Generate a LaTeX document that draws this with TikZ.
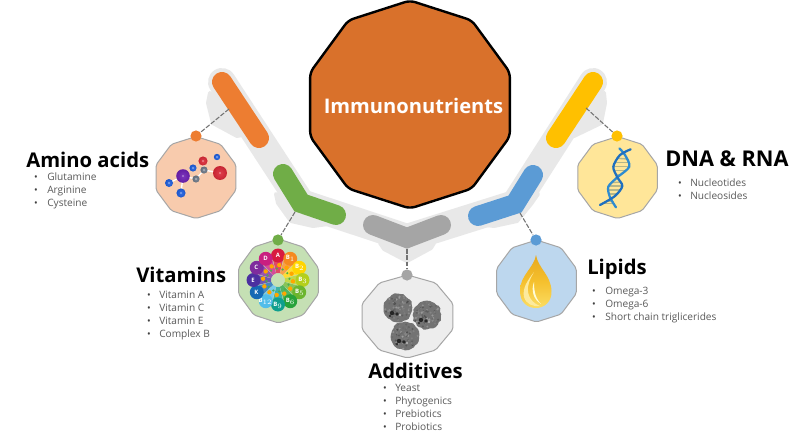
\documentclass[tikz,border=0pt]{standalone}
\usepackage{fontspec}
\setmainfont{Open Sans}
\usetikzlibrary{calc,decorations.pathmorphing,shapes.geometric}
\definecolor{hubfill}{HTML}{D9712B}
\definecolor{bandgray}{HTML}{E8E8E8}
\definecolor{pOrange}{HTML}{ED7D31}
\definecolor{pGreen}{HTML}{70AD47}
\definecolor{pGray}{HTML}{A5A5A5}
\definecolor{pBlue}{HTML}{5B9BD5}
\definecolor{pYellow}{HTML}{FFC000}
\definecolor{lOrange}{HTML}{F8CBAD}
\definecolor{lGreen}{HTML}{C5E0B4}
\definecolor{lGray}{HTML}{EDEDED}
\definecolor{lBlue}{HTML}{BDD7EE}
\definecolor{lYellow}{HTML}{FFE699}
\definecolor{itemgray}{HTML}{595959}
\definecolor{dropA}{HTML}{E8A91E}
\definecolor{dropB}{HTML}{F5C02E}
\definecolor{dropC}{HTML}{FBDD63}
\definecolor{dropD}{HTML}{FCEA9E}
\definecolor{dnaA}{HTML}{1F6FBF}
\definecolor{dnaB}{HTML}{2E8BD0}
\definecolor{dnaR}{HTML}{B4B68A}
\definecolor{aBlue}{HTML}{1E5FE0}
\definecolor{aPurple}{HTML}{6E1FB5}
\definecolor{aGray}{HTML}{6F7B8A}
\definecolor{aRed}{HTML}{DC2A38}
\definecolor{vA}{HTML}{D81B3F}
\definecolor{vBa}{HTML}{F58A1F}
\definecolor{vBb}{HTML}{FFD500}
\definecolor{vBc}{HTML}{B4CF1C}
\definecolor{vBe}{HTML}{6CB52E}
\definecolor{vBf}{HTML}{27A23A}
\definecolor{vBg}{HTML}{0E9F8E}
\definecolor{vBh}{HTML}{52BDE9}
\definecolor{vK}{HTML}{1569B4}
\definecolor{vE}{HTML}{4B2FA0}
\definecolor{vC}{HTML}{7E2C9D}
\definecolor{vD}{HTML}{C91F80}
\tikzset{
  band/.style={draw=bandgray,line width=21pt,line cap=round,miter limit=10},
  tabshape/.style={fill=bandgray,draw=bandgray,line width=3pt,line join=round},
  pill/.style={line width=15pt,line cap=round,miter limit=10},
  link/.style={draw=black!55,line width=0.8pt,dash pattern=on 3.5pt off 1.2pt},
  dotnode/.style={circle,inner sep=0pt,minimum size=8.4pt},
  deca/.style={draw=#1,line width=0.75pt,rounded corners=1.5pt},
  title/.style={anchor=base west,inner sep=0pt,font=\fontsize{15.2pt}{17pt}\selectfont\bfseries,text=black},
  item/.style={anchor=base west,inner sep=0pt,font=\fontsize{7.6pt}{9pt}\selectfont,text=itemgray},
  bul/.style={anchor=base,inner sep=0pt,font=\fontsize{7.3pt}{9pt}\selectfont,text=black!75},
  strand/.style={draw=#1,line width=1.7pt,line cap=round,line join=round}
}
\newcommand{\decag}[6]{\draw[deca=#6,fill=#5] ({#1},{#2+#4}) \foreach \t in {126,162,...,414}{ -- ({#1+#3*cos(\t)},{#2+#4*sin(\t)}) } -- cycle;}
\newcommand{\atom}[4]{\shade[inner color=#4!90!white,outer color=#4!90!black] (#1,#2) circle (#3); \fill[white!60!#4] (#1,#2) circle (0.8);}
\newcommand{\yeast}[3]{%
  \fill[black!55,decorate,decoration={random steps,segment length=2pt,amplitude=0.6pt}] (#1,#2) circle (#3);
  \foreach \k in {1,...,70}{%
    \pgfmathsetmacro{\ang}{rnd*360}\pgfmathsetmacro{\rr}{sqrt(rnd)*#3*0.92}\pgfmathsetmacro{\sh}{38+rnd*32}
    \fill[black!\sh] ({#1+\rr*cos(\ang)},{#2+\rr*sin(\ang)}) circle (1.1);
  }
  \fill[black!85] ({#1-6},{#2+5}) circle (2.2) ({#1-1},{#2+6}) circle (1.8) ({#1-8},{#2+8}) circle (1.2);
  \fill[white!75!black] ({#1+2},{#2+7}) circle (1.1);
}
\begin{document}
\begin{tikzpicture}[x=0.75pt,y=-0.75pt]
\useasboundingbox (0,0) rectangle (804,432);
\fill[white] (0,0) rectangle (804,432);
% path coordinates
\coordinate (a1) at (222,82); \coordinate (a2) at (259,138);
\coordinate (g1) at (283,174); \coordinate (g2) at (301,203); \coordinate (g3) at (336,215);
\coordinate (m1) at (373,225); \coordinate (m2) at (407,238); \coordinate (m3) at (441,225);
\coordinate (b1) at (478,216); \coordinate (b2) at (515,204); \coordinate (b3) at (533,175);
\coordinate (y1) at (556,138); \coordinate (y2) at (593,82);
% tabs
\filldraw[tabshape] (210,93) -- (208,103) -- (213,123) -- (237,136) -- (252,133) -- cycle;
\filldraw[tabshape] (276,194) -- (278,203) -- (291,221) -- (313,226) -- (328,224) -- cycle;
\filldraw[tabshape] (380,243) -- (384,249) -- (407,261) -- (431,248) -- (434,243) -- cycle;
\filldraw[tabshape] (538,194) -- (531,204) -- (517,221) -- (494,226) -- (478,224) -- cycle;
\filldraw[tabshape] (604,93) -- (605,103) -- (601,123) -- (574,136) -- (560,133) -- cycle;
% band
\draw[band] (a1) -- (g2) -- (m2) -- (b2) -- (y2);
% pills
\draw[pill,draw=pOrange] (a1) -- (a2);
\draw[pill,draw=pGreen] (g1) -- (g2) -- (g3);
\draw[pill,draw=pGray] (m1) -- (m2) -- (m3);
\draw[pill,draw=pBlue] (b1) -- (b2) -- (b3);
\draw[pill,draw=pYellow] (y1) -- (y2);
% decagons
\decag{196}{177.5}{42}{41}{lOrange}{black!35}
\decag{278.5}{281}{42}{42}{lGreen}{black!35}
\decag{407.5}{316.5}{47.8}{41.5}{lGray}{black!35}
\decag{536.5}{281}{41.8}{41}{lBlue}{black!35}
\decag{617.5}{177.5}{41.8}{41}{lYellow}{black!35}
% dots
\node[dotnode,fill=pOrange] (d1) at (196,136) {};
\node[dotnode,fill=pGreen] (d2) at (278,240) {};
\node[dotnode,fill=pGray] (d3) at (407,275) {};
\node[dotnode,fill=pBlue] (d4) at (536,240) {};
\node[dotnode,fill=pYellow] (d5) at (617,136) {};
% connectors
\coordinate (c1) at (229,109); \coordinate (c2) at (295,212); \coordinate (c3) at (407,249);
\coordinate (c4) at (520,213); \coordinate (c5) at (586,108);
\draw[link] (c1) -- (d1);
\draw[link] (c2) -- (d2);
\draw[link] (c3) -- (d3);
\draw[link] (c4) -- (d4);
\draw[link] (c5) -- (d5);
% hub
\draw[fill=hubfill,draw=black,line width=1.8pt,rounded corners=4pt] (410,208.5) \foreach \t in {126,162,...,414}{ -- ({410+105*cos(\t)},{104.5+104*sin(\t)}) } -- cycle;
\node[anchor=base,inner sep=0pt,text=white,font=\fontsize{15.1pt}{18pt}\selectfont\bfseries] (hub) at (413.5,113) {Immunonutrients};
% molecule
\draw[white,line width=1pt] (183,176) -- (196,179) -- (204,170) -- (220,173) (204,170) -- (203,161) (183,176) -- (169,183) (183,176) -- (181,193);
\atom{169}{183}{4}{aBlue}
\atom{181}{193}{4.6}{aBlue}
\atom{193}{168}{3.6}{aBlue}
\atom{217}{157}{3.2}{aBlue}
\atom{183}{176}{6.8}{aPurple}
\atom{196}{179}{3.6}{aGray}
\atom{204}{170}{3.6}{aGray}
\atom{203}{161}{4.6}{aRed}
\atom{220}{173}{7}{aRed}
% vitamins wheel
\foreach \i/\col/\lab in {0/vA/A,1/vBa/{B$_{1}$},2/vBb/{B$_{2}$},3/vBc/{B$_{3}$},4/vBe/{B$_{5}$},5/vBf/{B$_{6}$},6/vBg/{B$_{9}$},7/vBh/{B$_{12}$},8/vK/K,9/vE/E,10/vC/C,11/vD/D}{
  \pgfmathsetmacro{\t}{-90+30*\i}
  \fill[\col!80!white] ({278+7*cos(\t-14)},{280+7*sin(\t-14)}) -- ({278+20*cos(\t-14)},{280+20*sin(\t-14)}) -- ({278+20*cos(\t+14)},{280+20*sin(\t+14)}) -- ({278+7*cos(\t+14)},{280+7*sin(\t+14)}) -- cycle;
  \fill[\col] ({278+24.5*cos(\t)},{280+24.5*sin(\t)}) circle (7);
  \node[inner sep=0pt,text=white,font=\fontsize{4.5pt}{5pt}\selectfont\bfseries] (p\i) at ({278+25*cos(\t)},{280+25*sin(\t)}) {\lab};
  \fill[orange!70!yellow] ({278+15*cos(\t+5)},{280+15*sin(\t+5)}) circle (2.2);
  \fill[green!55!black!70] ({278+11.5*cos(\t-6)},{280+11.5*sin(\t-6)}) circle (1.2);
}
\fill[lGreen] (278,280) circle (6.5);
% yeast
\pgfmathsetseed{7}
\yeast{398}{308}{14}
\yeast{427}{315}{14}
\yeast{405}{336}{14}
% oil drop
\shade[top color=dropA,bottom color=dropC,middle color=dropB] (536,255) .. controls (538,268) and (551,275) .. (551.5,291) .. controls (552,302) and (544,308) .. (536,308) .. controls (527,308) and (520,302) .. (520,291) .. controls (520,275) and (534,268) .. (536,255) -- cycle;
\fill[dropD] (534,272) .. controls (528,280) and (522,288) .. (524,297) .. controls (526,304) and (533,307) .. (540,306) .. controls (532,303) and (527,296) .. (528,287) .. controls (529,280) and (532,276) .. (534,272) -- cycle;
\fill[white!85!yellow] (534,282) .. controls (531,290) and (533,299) .. (541,304) .. controls (535,298) and (534,290) .. (534,282) -- cycle;
% dna
\begin{scope}[shift={(530,60)},x=0.25pt,y=-0.25pt]
\foreach \ax/\ay/\bx/\by in {275/282/283/280,260/295/292/297,253/308/297/308,250/320/298/320,252/332/290/332,257/343/272/343,
  245/368/272/366,238/378/276/378,236/390/273/390,238/402/263/402,
  228/424/252/424,220/431/255/431,240/417/249/417}
  \draw[dnaR,line width=1pt] (\ax,\ay) -- (\bx,\by);
\draw[strand=dnaB] plot[smooth] coordinates {(268,265) (285,285) (298,320) (262,352) (235,380) (240,412) (258,442)};
\draw[strand=dnaA] plot[smooth] coordinates {(302,268) (270,285) (250,320) (262,352) (277,378) (255,408) (210,435)};
\end{scope}
% labels
\node[title] (t1) at (26,167) {Amino acids};
\foreach \n/\yy/\s in {a/180/Glutamine,b/193/Arginine,c/206/Cysteine}{
  \node[bul] (b1\n) at (36,\yy) {•}; \node[item] (i1\n) at (47,\yy) {\s};}
\node[title] (t2) at (136,282) {Vitamins};
\foreach \n/\yy/\s in {a/298.5/Vitamin A,b/311.5/Vitamin C,c/324.5/Vitamin E,d/337.5/Complex B}{
  \node[bul] (b2\n) at (149,\yy) {•}; \node[item] (i2\n) at (159,\yy) {\s};}
\node[title] (t3) at (368,378) {Additives};
\foreach \n/\yy/\s in {a/391.5/Yeast,b/404.5/Phytogenics,c/417.5/Prebiotics,d/430.5/Probiotics}{
  \node[bul] (b3\n) at (385,\yy) {•}; \node[item] (i3\n) at (395,\yy) {\s};}
\node[title,font=\fontsize{16.3pt}{18pt}\selectfont\bfseries] (t4) at (665,166) {DNA \& RNA};
\foreach \n/\yy/\s in {a/186/Nucleotides,b/199/Nucleosides}{
  \node[bul] (b4\n) at (680,\yy) {•}; \node[item] (i4\n) at (690,\yy) {\s};}
\node[title] (t5) at (587,274) {Lipids};
\foreach \n/\yy/\s in {a/294/Omega-3,b/307/Omega-6,c/320/Short chain triglicerides}{
  \node[bul] (b5\n) at (594,\yy) {•}; \node[item] (i5\n) at (605,\yy) {\s};}
\end{tikzpicture}
\end{document}
